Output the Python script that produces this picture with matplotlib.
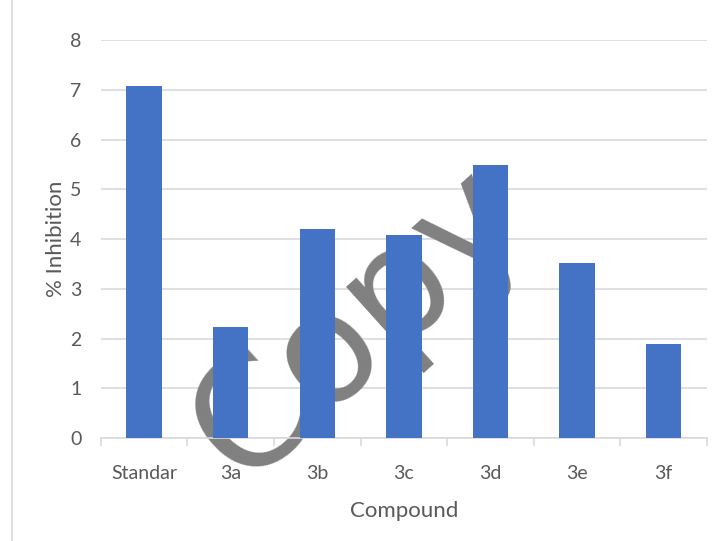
import matplotlib
matplotlib.use('Agg')
import matplotlib.pyplot as plt
import numpy as np

compounds = ['Standar', '3a', '3b', '3c', '3d', '3e', '3f']
inhibition = [7.07, 2.23, 4.20, 4.08, 5.48, 3.53, 1.89]

plt.rcParams['font.family'] = ['Lato', 'DejaVu Sans']

fig = plt.figure(figsize=(7.16, 5.41), dpi=100)
ax = fig.add_axes([0.141, 0.19, 0.846, 0.736])

x = np.arange(len(compounds))
ax.bar(x, inhibition, width=0.41, color='#4472c4', zorder=3)

ax.set_xlim(-0.5, len(compounds) - 0.5)
ax.set_ylim(0, 8)
ax.set_yticks(range(0, 9))
ax.yaxis.grid(True, color='#d9d9d9', linewidth=1.2, zorder=0)
ax.set_axisbelow(True)

for s in ['top', 'right', 'left']:
    ax.spines[s].set_visible(False)
ax.spines['bottom'].set_color('#d9d9d9')
ax.spines['bottom'].set_linewidth(1.2)

ax.set_xticks(x)
ax.set_xticklabels(compounds)
ax.set_xticks(np.arange(-0.5, len(compounds)), minor=True)
ax.tick_params(axis='x', which='major', length=0, pad=19, labelsize=14, labelcolor='#595959')
ax.tick_params(axis='x', which='minor', length=6, width=1.2, color='#d9d9d9')
ax.tick_params(axis='y', length=0, pad=14, labelsize=14, labelcolor='#595959')

ax.set_xlabel('Compound', fontsize=16, color='#595959', labelpad=14)
ax.set_ylabel('% Inhibition', fontsize=16, color='#595959', labelpad=3)

# watermark, drawn behind the bars
ax.text(0.50, 0.40, 'Copy', fontsize=110, color='#808080', rotation=42,
        family='DejaVu Sans', ha='center', va='center', zorder=2,
        transform=fig.transFigure, clip_on=False)

# chart frame left edge
fig.add_artist(plt.Line2D([0.017, 0.017], [0, 1], color='#d9d9d9', linewidth=1.2))

fig.savefig('out.png', dpi=100)
